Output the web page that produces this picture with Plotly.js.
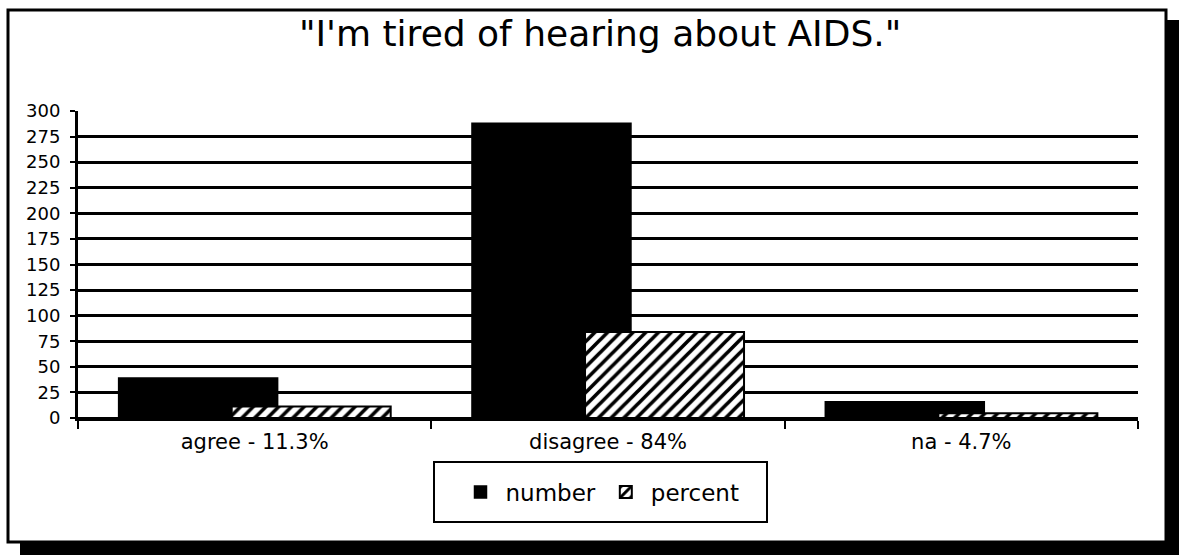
<!DOCTYPE html>
<html>
<head>
<meta charset="utf-8">
<script src="https://cdn.plot.ly/plotly-3.0.1.min.js"></script>
<style>
  html, body { margin: 0; padding: 0; background: #ffffff; }
  #chart { width: 1179px; height: 555px; }
</style>
</head>
<body>
<div id="chart"></div>
<script>
// Survey responses to the statement
const categories = ["agree - 11.3%", "disagree - 84%", "na - 4.7%"];
const numberValues = [39, 288, 16];
const percentValues = [11.3, 84, 4.7];
const yTickValues = [0, 25, 50, 75, 100, 125, 150, 175, 200, 225, 250, 275, 300];

const FONT = "DejaVu Sans, Verdana, sans-serif";

const barWidth = 0.45;

const traces = [
  {
    type: "bar",
    name: "number",
    x: categories,
    y: numberValues,
    width: barWidth,
    offset: -0.385,
    marker: { color: "#000000", line: { color: "#000000", width: 1.5 } },
    hoverinfo: "x+y"
  },
  {
    type: "bar",
    name: "percent",
    x: categories,
    y: percentValues,
    width: barWidth,
    offset: -0.065,
    marker: {
      color: "#ffffff",
      line: { color: "#000000", width: 2 },
      pattern: { shape: "/", fgcolor: "#000000", bgcolor: "#ffffff", size: 9, solidity: 0.4 }
    },
    hoverinfo: "x+y"
  }
];

// paper coordinates for the frame around the whole chart
const L = 78, R = 1138, T = 111, B = 418;
const px = v => (v - L) / (R - L);
const py = v => (B - v) / (B - T);

const shapes = [
  // drop shadow, right and bottom
  { type: "rect", xref: "paper", yref: "paper", layer: "below",
    x0: px(1166), x1: px(1179), y0: py(555), y1: py(20),
    fillcolor: "#000000", line: { width: 0 } },
  { type: "rect", xref: "paper", yref: "paper", layer: "below",
    x0: px(20), x1: px(1179), y0: py(555), y1: py(542),
    fillcolor: "#000000", line: { width: 0 } },
  // outer frame
  { type: "rect", xref: "paper", yref: "paper", layer: "below",
    x0: px(8), x1: px(1166), y0: py(542), y1: py(10),
    fillcolor: "rgba(0,0,0,0)", line: { color: "#000000", width: 3 } },
  // legend box
  { type: "rect", xref: "paper", yref: "paper", layer: "above",
    x0: px(434), x1: px(767), y0: py(522), y1: py(462),
    fillcolor: "rgba(0,0,0,0)", line: { color: "#000000", width: 2 } }
];

const layout = {
  width: 1179,
  height: 555,
  margin: { l: L, r: 1179 - R, t: T, b: 555 - B },
  paper_bgcolor: "#ffffff",
  plot_bgcolor: "#ffffff",
  barmode: "overlay",
  font: { family: FONT, color: "#000000", size: 18 },
  title: {
    text: "\"I'm tired of hearing about AIDS.\"",
    font: { family: FONT, size: 36, color: "#000000" },
    xref: "container", x: 0.509, xanchor: "center",
    yref: "container", y: 1 - 33 / 555, yanchor: "middle"
  },
  xaxis: {
    type: "category",
    showline: true, linecolor: "#000000", linewidth: 3,
    ticks: "outside", tickson: "boundaries", ticklen: 8, tickwidth: 2, tickcolor: "#000000",
    showgrid: false,
    tickfont: { family: FONT, size: 21 },
    ticklabelstandoff: 3,
    fixedrange: true
  },
  yaxis: {
    range: [0, 300],
    tickvals: yTickValues,
    ticktext: yTickValues.map(String),
    showline: true, linecolor: "#000000", linewidth: 3,
    ticks: "outside", ticklen: 5, tickwidth: 2, tickcolor: "#000000",
    showgrid: true, gridcolor: "#000000", gridwidth: 3,
    zeroline: true, zerolinecolor: "#000000", zerolinewidth: 3,
    tickfont: { family: FONT, size: 18 },
    ticklabelstandoff: 6,
    fixedrange: true
  },
  showlegend: true,
  legend: {
    orientation: "h",
    x: px(600), xanchor: "center",
    y: py(492), yanchor: "middle",
    font: { family: FONT, size: 23, color: "#000000" },
    bgcolor: "rgba(0,0,0,0)",
    borderwidth: 0,
    itemwidth: 40,
    traceorder: "normal"
  },
  shapes: shapes,
  bargap: 0.1
};

Plotly.newPlot("chart", traces, layout, { displayModeBar: false, staticPlot: true });
</script>
</body>
</html>
